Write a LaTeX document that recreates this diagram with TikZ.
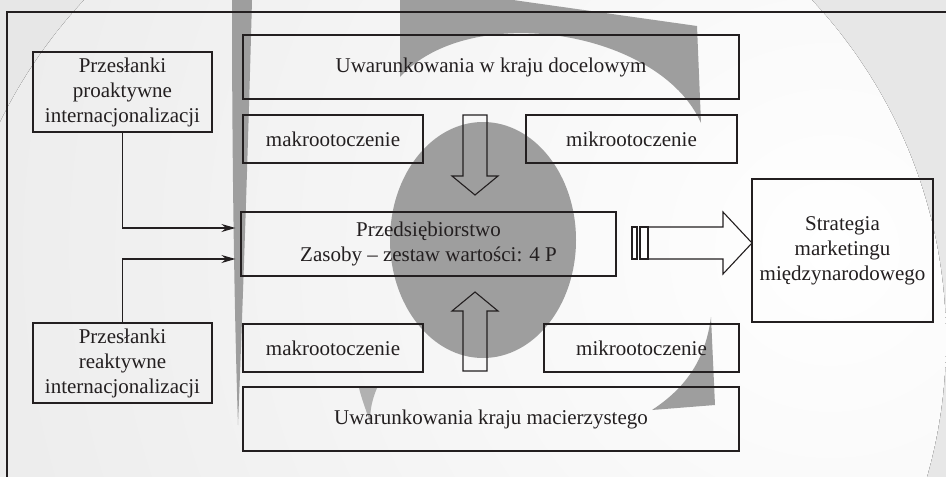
\documentclass[tikz,border=0pt]{standalone}
\usepackage{fontspec}
\setmainfont{Liberation Serif}
\usetikzlibrary{arrows.meta,calc}
\definecolor{wm}{RGB}{158,158,158}
\definecolor{ink}{RGB}{35,31,32}
\begin{document}
\begin{tikzpicture}[x=1pt,y=-1pt,
  box/.style={draw=ink,text=ink,line width=1.1pt,inner sep=0pt,align=center,font=\fontsize{21}{25}\selectfont},
  conn/.style={draw=ink,line width=1.1pt,-{Stealth[length=14pt,width=8pt]}},
  blockarrow/.style={draw=ink,line width=1.1pt,line join=miter}]
\useasboundingbox (0,0) rectangle (946,477);
% background watermark
\fill[gray!19] (0,0) rectangle (946,477);
\begin{scope}
  \clip (0,0) rectangle (946,477);
  \begin{scope}
    \clip (448,340) circle [radius=498pt];
    \fill[inner color=white, outer color=gray!17] (830,250) circle [radius=1000pt];
  \end{scope}
  \fill[wm] (483,240) ellipse [x radius=93pt, y radius=118pt];
  \fill[wm] (232,0) -- (252,0) .. controls (248,150) and (243,300) .. (238,425) .. controls (234,300) and (232,150) .. (232,0) -- cycle;
  \fill[wm] (400,0) -- (513,0) -- (697,26) -- (701,123) .. controls (660,30) and (470,0) .. (400,77) -- cycle;
  \fill[wm] (711,317) -- (715,405) -- (652,410) .. controls (690,385) and (706,355) .. (711,317) -- cycle;
  \fill[wm!80!white] (359,388) -- (377,388) .. controls (372,400) and (370,410) .. (370,422) .. controls (366,410) and (362,400) .. (359,388) -- cycle;
\end{scope}
% frame
\draw[ink,line width=1.1pt] (7,477) -- (7,12) -- (946,12);
% boxes
\node[box, minimum width=179pt, minimum height=80pt] (pro) at (122.5,92) {Przesłanki\\proaktywne\\internacjonalizacji};
\node[box, minimum width=179pt, minimum height=80pt] (rea) at (122.5,363) {Przesłanki\\reaktywne\\internacjonalizacji};
\node[box, minimum width=496pt, minimum height=64pt] (doc) at (491,67) {Uwarunkowania w kraju docelowym};
\node[box, minimum width=180pt, minimum height=48pt] (makro1) at (333,139) {makrootoczenie};
\node[box, minimum width=211pt, minimum height=48pt] (mikro1) at (631.5,139) {mikrootoczenie};
\node[box, minimum width=375pt, minimum height=64pt] (firm) at (428.5,244) {Przedsiębiorstwo\\Zasoby – zestaw wartości: 4 P};
\node[box, minimum width=181pt, minimum height=143pt] (strat) at (842.5,250.5) {Strategia\\marketingu\\międzynarodowego};
\node[box, minimum width=180pt, minimum height=48pt] (makro2) at (333,348) {makrootoczenie};
\node[box, minimum width=195pt, minimum height=48pt] (mikro2) at (641.5,348) {mikrootoczenie};
\node[box, minimum width=496pt, minimum height=64pt] (mac) at (491,419) {Uwarunkowania kraju macierzystego};
% connectors
\draw[conn, shorten >=5pt] (pro.south) |- ($(firm.west)+(0,-16)$);
\draw[conn, shorten >=5pt] (rea.north) |- ($(firm.west)+(0,15)$);
% block arrows
\draw[blockarrow] (463,115) -- (487,115) -- (487,176) -- (498,176) -- (475,195) -- (452,176) -- (463,176) -- cycle;
\draw[blockarrow] (463,371) -- (487,371) -- (487,311) -- (498,311) -- (475,292) -- (452,311) -- (463,311) -- cycle;
\coordinate (tip) at (752,243);
\draw[blockarrow] (648,227) -- (723,227) -- (723,212) -- (tip) -- (723,274) -- (723,259) -- (648,259) -- cycle;
\draw[blockarrow, fill=white] (632,227) rectangle (637,259);
\draw[blockarrow, fill=white] (640,227) rectangle (648,259);
\end{tikzpicture}
\end{document}
